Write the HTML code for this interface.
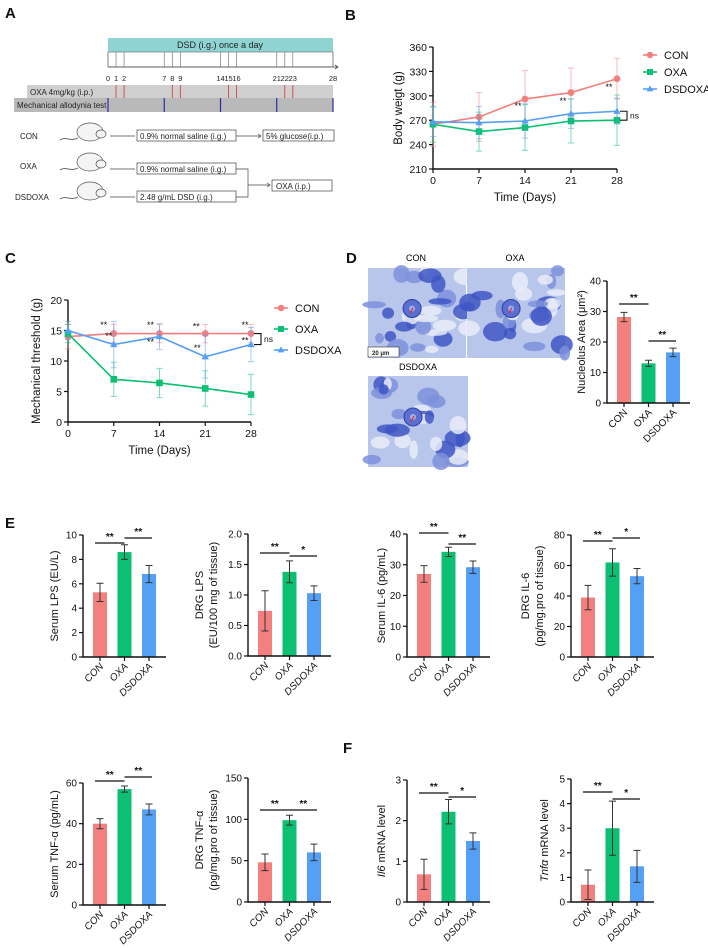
<!DOCTYPE html>
<html><head><meta charset="utf-8"><style>
html,body{margin:0;padding:0;background:#fff;}
svg{display:block;font-family:"Liberation Sans",Arial,sans-serif;}
</style></head><body>
<svg id="fig" width="708" height="948" viewBox="0 0 708 948" xmlns="http://www.w3.org/2000/svg">
<!-- Panel letters -->
<g font-weight="bold" font-size="15" fill="#111">
<text x="5" y="18">A</text>
<text x="345" y="20">B</text>
<text x="5" y="263">C</text>
<text x="346" y="263">D</text>
<text x="5" y="528">E</text>
<text x="343" y="753">F</text>
</g>
<!-- Panel A schematic -->
<g id="panelA" font-size="8" fill="#222">
<rect x="108" y="38" width="225" height="14" fill="#8fd3d3"/>
<text x="220" y="48" text-anchor="middle" font-size="9">DSD (i.g.) once a day</text>
<rect x="108" y="52" width="225" height="15" fill="none" stroke="#777" stroke-width="0.7"/>
<line x1="108" y1="67" x2="338" y2="67" stroke="#444" stroke-width="0.8"/>
<path d="M335,65 L338,67 L335,69" fill="none" stroke="#444" stroke-width="0.8"/>
<rect x="27" y="85" width="306" height="13" fill="#cfcfcf"/>
<rect x="14" y="98" width="319" height="14" fill="#b9b9b9"/>
<text x="30" y="95">OXA 4mg/kg (i.p.)</text>
<text x="17" y="108">Mechanical allodynia test</text>
<g id="aTicks"></g>
<!-- rats and boxes -->
<g id="rats"></g>
<text x="20" y="139">CON</text>
<text x="20" y="169">OXA</text>
<text x="15" y="200">DSDOXA</text>
<g stroke="#444" stroke-width="0.7" fill="none">
<line x1="110" y1="136" x2="135" y2="136"/><line x1="110" y1="169" x2="135" y2="169"/><line x1="110" y1="197" x2="135" y2="197"/>
<rect x="137" y="130" width="99" height="11" fill="#fff"/>
<rect x="263" y="130" width="71" height="11" fill="#fff"/>
<rect x="137" y="163" width="99" height="11" fill="#fff"/>
<rect x="137" y="191" width="99" height="11" fill="#fff"/>
<rect x="272" y="180" width="60" height="11" fill="#fff"/>
<line x1="236" y1="136" x2="261" y2="136"/><path d="M258,134 L261,136 L258,138"/>
<path d="M236,169 H248 V197 H236"/><line x1="248" y1="185" x2="270" y2="185"/><path d="M267,183 L270,185 L267,187"/>
</g>
<text x="140" y="139">0.9% normal saline (i.g.)</text>
<text x="266" y="139">5% glucose(i.p.)</text>
<text x="140" y="172">0.9% normal saline (i.g.)</text>
<text x="140" y="200">2.48 g/mL  DSD (i.g.)</text>
<text x="276" y="189">OXA (i.p.)</text>
</g>
<!-- Panel D histology -->
<g id="panelD">
<text x="416" y="261" text-anchor="middle" font-size="9">CON</text>
<text x="515" y="261" text-anchor="middle" font-size="9">OXA</text>
<text x="418" y="370" text-anchor="middle" font-size="9">DSDOXA</text>
<g id="histo"></g>
</g>
<g id="charts"></g>
</svg>
<script>
// ---------------- DATA ----------------
const lineDays = [0, 7, 14, 21, 28];
const bwCon = [265, 274, 296, 304, 321];
const bwConErr = [27, 30, 35, 30, 25];
const bwOxa = [265, 256, 261, 269, 270];
const bwOxaErr = [22, 24, 28, 27, 31];
const bwDsd = [268, 267, 269, 278, 281];
const bwDsdErr = [18, 20, 21, 18, 16];
const bwTicks = [210, 240, 270, 300, 330, 360];

const mtCon = [14, 14.5, 14.5, 14.5, 14.5];
const mtConErr = [2, 1.5, 1.5, 1.5, 1.5];
const mtOxa = [14.5, 7, 6.4, 5.5, 4.5];
const mtOxaErr = [1.5, 2.8, 2.4, 2.9, 3.3];
const mtDsd = [15, 12.7, 14, 10.7, 12.7];
const mtDsdErr = [1.5, 3.8, 2.1, 3.5, 2.8];
const mtTicks = [0, 5, 10, 15, 20];

const groups = ["CON", "OXA", "DSDOXA"];
const nucleolus = [28.2, 13, 16.6];
const nucleolusErr = [1.5, 1.0, 1.4];
const serumLps = [5.3, 8.6, 6.8];
const serumLpsErr = [0.75, 0.6, 0.7];
const drgLps = [0.74, 1.38, 1.03];
const drgLpsErr = [0.33, 0.18, 0.12];
const serumIl6 = [27, 34.2, 29.2];
const serumIl6Err = [2.7, 1.5, 2.0];
const drgIl6 = [39, 62, 53];
const drgIl6Err = [8, 9, 5];
const serumTnf = [40, 57, 47];
const serumTnfErr = [2.5, 1.5, 2.7];
const drgTnf = [48, 99, 60];
const drgTnfErr = [10, 6, 10];
const il6Mrna = [0.68, 2.22, 1.5];
const il6MrnaErr = [0.37, 0.3, 0.2];
const tnfMrna = [0.7, 3.0, 1.45];
const tnfMrnaErr = [0.6, 1.1, 0.65];

const oxaDoseDays = [1, 2, 8, 9, 15, 16, 22, 23];
const testDays = [0, 7, 14, 21, 28];
const dsdLineDays = [0, 1, 2, 7, 8, 9, 14, 15, 16, 21, 22, 23, 28];

// ---------------- HELPERS ----------------
const NS = "http://www.w3.org/2000/svg";
const root = document.getElementById("charts");
function el(tag, attrs, parent) {
  const e = document.createElementNS(NS, tag);
  for (const k in attrs) e.setAttribute(k, attrs[k]);
  (parent || root).appendChild(e);
  return e;
}
function txt(s, attrs, parent) { const t = el("text", attrs, parent); t.textContent = s; return t; }
const COL = ["#f47f7f", "#0cbf72", "#559ff5"];

// Panel A ticks
const aT = document.getElementById("aTicks");
const dayX = d => 108 + d * (225 / 28);
dsdLineDays.forEach(d => {
  const l = el("line", {x1: dayX(d), y1: 52, x2: dayX(d), y2: 67, stroke: "#777", "stroke-width": 0.7}, aT);
  
  
  const t = txt(String(d), {x: dayX(d), y: 81, "text-anchor": "middle", "font-size": 7.5, fill: "#222"}, aT);
  
  
});
oxaDoseDays.forEach(d => {
  const l = el("line", {x1: dayX(d), y1: 85, x2: dayX(d), y2: 98, stroke: "#e03030", "stroke-width": 0.8}, aT);
  
  
});
testDays.forEach(d => {
  const l = el("line", {x1: dayX(d), y1: 98, x2: dayX(d), y2: 112, stroke: "#2a2aa8", "stroke-width": 1.2}, aT);
  
  
});
// rats
const ratG = document.getElementById("rats");
[136, 166, 195].forEach(cy => {
  const g = el("g", {}, ratG);
  
  
  el("ellipse", {cx: 90, cy: cy - 4, rx: 13, ry: 9, fill: "#f4f4f4", stroke: "#555", "stroke-width": 0.7}, g);
  el("ellipse", {cx: 101, cy: cy - 2, rx: 5, ry: 4, fill: "#f4f4f4", stroke: "#555", "stroke-width": 0.7}, g);
  el("path", {d: `M78,${cy+2} C70,${cy+6} 66,${cy} 60,${cy+4}`, fill: "none", stroke: "#555", "stroke-width": 0.9}, g);
});

// histology
const H = document.getElementById("histo");
function histo(x, y, w, h, name, seed) {
  const g = el("g", {}, H);
  
  
  el("rect", {x, y, width: w, height: h, fill: "#b8c6ec"}, g);
  let s = seed;
  const rnd = () => { s = (s * 9301 + 49297) % 233280; return s / 233280; };
  for (let i = 0; i < 26; i++) {
    el("ellipse", {cx: x + rnd() * w, cy: y + rnd() * h, rx: 4 + rnd() * 9, ry: 3 + rnd() * 7,
      fill: i % 3 === 0 ? "#e8ecf8" : (i % 3 === 1 ? "#3f56c4" : "#7d90dc"), opacity: 0.85}, g);
  }
  el("circle", {cx: x + w * 0.45, cy: y + h * 0.45, r: 9, fill: "#5a6fd0", stroke: "#2c3fa8"}, g);
  el("circle", {cx: x + w * 0.45, cy: y + h * 0.45, r: 3, fill: "#9fb0ea"}, g);
  el("line", {x1: x + w * 0.43, y1: y + h * 0.5, x2: x + w * 0.46, y2: y + h * 0.44, stroke: "#e22", "stroke-width": 1.2}, g);
}
histo(368, 268, 98, 90, "histology-image-con", 11);
histo(467, 268, 98, 90, "histology-image-oxa", 37);
histo(368, 376, 100, 91, "histology-image-dsdoxa", 73);
{
  const sb = el("rect", {x: 368, y: 347, width: 31, height: 10, fill: "#fff", stroke: "#333", "stroke-width": 0.6}, H);
  
  
  const st = txt("20 μm", {x: 372, y: 355, "font-size": 6, "font-weight": "bold", fill: "#222"}, H);
  
  
}

// ---------------- LINE CHART ----------------
function lineChart(cfg) {
  const g = el("g", {});
  
  
  const xs = d => cfg.x0 + (d - 0) / 28 * (cfg.x1 - cfg.x0);
  const ys = v => cfg.y0 - (v - cfg.ymin) / (cfg.ymax - cfg.ymin) * (cfg.y0 - cfg.y1);
  // axes
  const ax = el("path", {d: `M${cfg.x0},${cfg.y1} V${cfg.y0} H${cfg.x1}`, fill: "none", stroke: "#111", "stroke-width": 1.4}, g);
  
  
  cfg.ticks.forEach(t => {
    el("line", {x1: cfg.x0 - 4, y1: ys(t), x2: cfg.x0, y2: ys(t), stroke: "#111", "stroke-width": 1.2}, g);
    const l = txt(String(t), {x: cfg.x0 - 6, y: ys(t) + 4, "text-anchor": "end", "font-size": 10.5, fill: "#111"}, g);
    
    
  });
  lineDays.forEach(d => {
    el("line", {x1: xs(d), y1: cfg.y0, x2: xs(d), y2: cfg.y0 + 4, stroke: "#111", "stroke-width": 1.2}, g);
    const l = txt(String(d), {x: xs(d), y: cfg.y0 + 15, "text-anchor": "middle", "font-size": 10.5, fill: "#111"}, g);
    
    
  });
  const xt = txt("Time (Days)", {x: (cfg.x0 + cfg.x1) / 2, y: cfg.y0 + 32, "text-anchor": "middle", "font-size": 11.5, fill: "#111"}, g);
  
  
  const yt = txt(cfg.ytitle, {x: 0, y: 0, "text-anchor": "middle", "font-size": 11.5, fill: "#111",
    transform: `translate(${cfg.ytx},${(cfg.y0 + cfg.y1) / 2}) rotate(-90)`}, g);
  
  
  cfg.series.forEach((s, si) => {
    const sg = el("g", {}, g);
    
    
    s.vals.forEach((v, i) => {
      const x = xs(lineDays[i]);
      const a = ys(v + s.err[i]), b = ys(v - s.err[i]);
      el("path", {d: `M${x},${a} V${b} M${x-3},${a} H${x+3} M${x-3},${b} H${x+3}`, stroke: COL[si], "stroke-width": 1, opacity: 0.55, fill: "none"}, sg);
    });
    const pts = s.vals.map((v, i) => `${xs(lineDays[i])},${ys(v)}`).join(" ");
    const pl = el("polyline", {points: pts, fill: "none", stroke: COL[si], "stroke-width": 1.6}, sg);
    
    
    s.vals.forEach((v, i) => {
      const x = xs(lineDays[i]), y = ys(v);
      let m;
      if (si === 0) m = el("circle", {cx: x, cy: y, r: 3.4, fill: COL[si]}, sg);
      else if (si === 1) m = el("rect", {x: x - 3.3, y: y - 3.3, width: 6.6, height: 6.6, fill: COL[si]}, sg);
      else m = el("path", {d: `M${x},${y-3.8} L${x+3.6},${y+2.6} L${x-3.6},${y+2.6} Z`, fill: COL[si]}, sg);
      
      
    });
  });
  (cfg.stars || []).forEach(st => {
    const t = txt("**", {x: xs(st[0]) + st[2], y: ys(st[1]), "text-anchor": "middle", "font-size": 9, fill: "#111"}, g);
    
    
  });
  // ns bracket
  const bx = cfg.x1 + 6;
  const ya = ys(cfg.ns[0]), yb = ys(cfg.ns[1]);
  el("path", {d: `M${bx-3},${ya} H${bx+4} V${yb} H${bx-3}`, fill: "none", stroke: "#111", "stroke-width": 1.1}, g);
  const nt = txt("ns", {x: bx + 7, y: (ya + yb) / 2 + 3, "font-size": 8.5, fill: "#111"}, g);
  
  
  // legend
  cfg.series.forEach((s, si) => {
    const lg = el("g", {}, g);
    
    
    const lx = cfg.legX, ly = cfg.legY + si * cfg.legDy;
    el("line", {x1: lx - 7, y1: ly, x2: lx + 7, y2: ly, stroke: COL[si], "stroke-width": 1.6}, lg);
    if (si === 0) el("circle", {cx: lx, cy: ly, r: 3.2, fill: COL[si]}, lg);
    else if (si === 1) el("rect", {x: lx - 3, y: ly - 3, width: 6, height: 6, fill: COL[si]}, lg);
    else el("path", {d: `M${lx},${ly-3.6} L${lx+3.4},${ly+2.4} L${lx-3.4},${ly+2.4} Z`, fill: COL[si]}, lg);
    txt(s.label, {x: lx + 14, y: ly + 4, "font-size": 11, fill: "#111"}, lg);
  });
}

lineChart({name: "body-weight-chart", x0: 433, x1: 617, y0: 169, y1: 47, ymin: 210, ymax: 360, ticks: bwTicks,
  ytitle: "Body weigt (g)", ytx: 402,
  series: [{label: "CON", vals: bwCon, err: bwConErr}, {label: "OXA", vals: bwOxa, err: bwOxaErr}, {label: "DSDOXA", vals: bwDsd, err: bwDsdErr}],
  stars: [[14, 284, -7], [21, 290, -8], [28, 307, -8]], ns: [281, 270], legX: 650, legY: 55, legDy: 17});

lineChart({name: "mechanical-threshold-chart", x0: 68, x1: 251, y0: 422, y1: 300, ymin: 0, ymax: 20, ticks: mtTicks,
  ytitle: "Mechanical  threshold (g)", ytx: 40,
  series: [{label: "CON", vals: mtCon, err: mtConErr}, {label: "OXA", vals: mtOxa, err: mtOxaErr}, {label: "DSDOXA", vals: mtDsd, err: mtDsdErr}],
  stars: [[7, 15.4, -10], [7, 13.6, -5], [14, 15.4, -9], [14, 12.6, -9], [21, 15.2, -9], [21, 11.6, -8], [28, 15.4, -6], [28, 12.9, -6]],
  ns: [14.5, 12.7], legX: 281, legY: 308, legDy: 21});

// ---------------- BAR CHART ----------------
function barChart(cfg) {
  const g = el("g", {});
  
  
  const ys = v => cfg.y0 - v / cfg.max * (cfg.y0 - cfg.y1);
  const xc = i => cfg.x0 + 17 + i * 24.5;
  cfg.vals.forEach((v, i) => {
    const b = el("rect", {x: xc(i) - 7, y: ys(v), width: 14, height: cfg.y0 - ys(v), fill: COL[i]}, g);
    
    
    const a = ys(v + cfg.err[i]), c = ys(v - cfg.err[i]);
    const eb = el("path", {d: `M${xc(i)},${a} V${c} M${xc(i)-3.5},${a} H${xc(i)+3.5} M${xc(i)-3.5},${c} H${xc(i)+3.5}`, stroke: "#333", "stroke-width": 1, fill: "none"}, g);
    
    
  });
  const ax = el("path", {d: `M${cfg.x0},${cfg.y1} V${cfg.y0} H${cfg.x0 + 83}`, fill: "none", stroke: "#111", "stroke-width": 1.4}, g);
  
  
  cfg.ticks.forEach((t, k) => {
    const v = k * cfg.max / (cfg.ticks.length - 1);
    el("line", {x1: cfg.x0 - 4, y1: ys(v), x2: cfg.x0, y2: ys(v), stroke: "#111", "stroke-width": 1.2}, g);
    const l = txt(t, {x: cfg.x0 - 6, y: ys(v) + 3.5, "text-anchor": "end", "font-size": 10, fill: "#111"}, g);
    
    
  });
  groups.forEach((gname, i) => {
    el("line", {x1: xc(i), y1: cfg.y0, x2: xc(i), y2: cfg.y0 + 4, stroke: "#111", "stroke-width": 1.2}, g);
    const l = txt(gname, {x: 0, y: 0, "text-anchor": "end", "font-size": 10, fill: "#111",
      "font-style": cfg.italicX ? "italic" : "normal", transform: `translate(${xc(i) + 4},${cfg.y0 + 10}) rotate(-45)`}, g);
    
    
  });
  cfg.title.forEach((line, k) => {
    const t = el("text", {x: 0, y: 0, "text-anchor": "middle", "font-size": 11, fill: "#111",
      transform: `translate(${cfg.tx + k * 14},${(cfg.y0 + cfg.y1) / 2}) rotate(-90)`}, g);
    t.innerHTML = line;
    
    
  });
  cfg.sig.forEach(s => {
    const xa = xc(s[0]) - (s[0] === 0 ? 5 : 0), xb = xc(s[1]) + (s[1] === 2 ? 3 : 0);
    const sl = el("line", {x1: xa, y1: s[2], x2: xb, y2: s[2], stroke: "#111", "stroke-width": 1.3}, g);
    
    
    const st = txt(s[3], {x: (xa + xb) / 2, y: s[2] - 3, "text-anchor": "middle", "font-size": 10, "font-weight": "bold", fill: "#111"}, g);
    
    
  });
}

barChart({name: "nucleolus-area-chart", x0: 607, y0: 403, y1: 281, max: 40, ticks: ["0","10","20","30","40"], vals: nucleolus, err: nucleolusErr,
  title: ["Nucleolus Area (μm²)"], tx: 585, sig: [[0, 1, 304, "**"], [1, 2, 341, "**"]]});
barChart({name: "serum-lps-chart", x0: 83, y0: 657, y1: 535, max: 10, ticks: ["0","2","4","6","8","10"], vals: serumLps, err: serumLpsErr,
  title: ["Serum LPS (EU/L)"], tx: 58, italicX: true, sig: [[0, 1, 543, "**"], [1, 2, 538, "**"]]});
barChart({name: "drg-lps-chart", x0: 248, y0: 656, y1: 534, max: 2, ticks: ["0.0","0.5","1.0","1.5","2.0"], vals: drgLps, err: drgLpsErr,
  title: ["DRG LPS", "(EU/100 mg of tissue)"], tx: 203, italicX: true, sig: [[0, 1, 553, "**"], [1, 2, 556, "*"]]});
barChart({name: "serum-il6-chart", x0: 407, y0: 657, y1: 534, max: 40, ticks: ["0","10","20","30","40"], vals: serumIl6, err: serumIl6Err,
  title: ["Serum IL-6 (pg/mL)"], tx: 385, italicX: true, sig: [[0, 1, 533, "**"], [1, 2, 544, "**"]]});
barChart({name: "drg-il6-chart", x0: 571, y0: 657, y1: 535, max: 80, ticks: ["0","20","40","60","80"], vals: drgIl6, err: drgIl6Err,
  title: ["DRG IL-6", "(pg/mg.pro of tissue)"], tx: 529, italicX: true, sig: [[0, 1, 541, "**"], [1, 2, 538, "*"]]});
barChart({name: "serum-tnf-chart", x0: 83, y0: 905, y1: 783, max: 60, ticks: ["0","20","40","60"], vals: serumTnf, err: serumTnfErr,
  title: ["Serum TNF-α (pg/mL)"], tx: 58, italicX: true, sig: [[0, 1, 781, "**"], [1, 2, 777, "**"]]});
barChart({name: "drg-tnf-chart", x0: 248, y0: 902, y1: 778, max: 150, ticks: ["0","50","100","150"], vals: drgTnf, err: drgTnfErr,
  title: ["DRG TNF-α", "(pg/mg.pro of tissue)"], tx: 203, italicX: true, sig: [[0, 1, 810, "**"], [1, 2, 810, "**"]]});
barChart({name: "il6-mrna-chart", x0: 407, y0: 902, y1: 780, max: 3, ticks: ["0","1","2","3"], vals: il6Mrna, err: il6MrnaErr,
  title: ["<tspan font-style='italic'>Il6</tspan> mRNA level"], tx: 385, italicX: true, sig: [[0, 1, 793, "**"], [1, 2, 797, "*"]]});
barChart({name: "tnf-mrna-chart", x0: 571, y0: 902, y1: 779, max: 5, ticks: ["0","1","2","3","4","5"], vals: tnfMrna, err: tnfMrnaErr,
  title: ["<tspan font-style='italic'>Tnfα</tspan> mRNA level"], tx: 548, italicX: true, sig: [[0, 1, 792, "**"], [1, 2, 799, "*"]]});
</script>
</body></html>
